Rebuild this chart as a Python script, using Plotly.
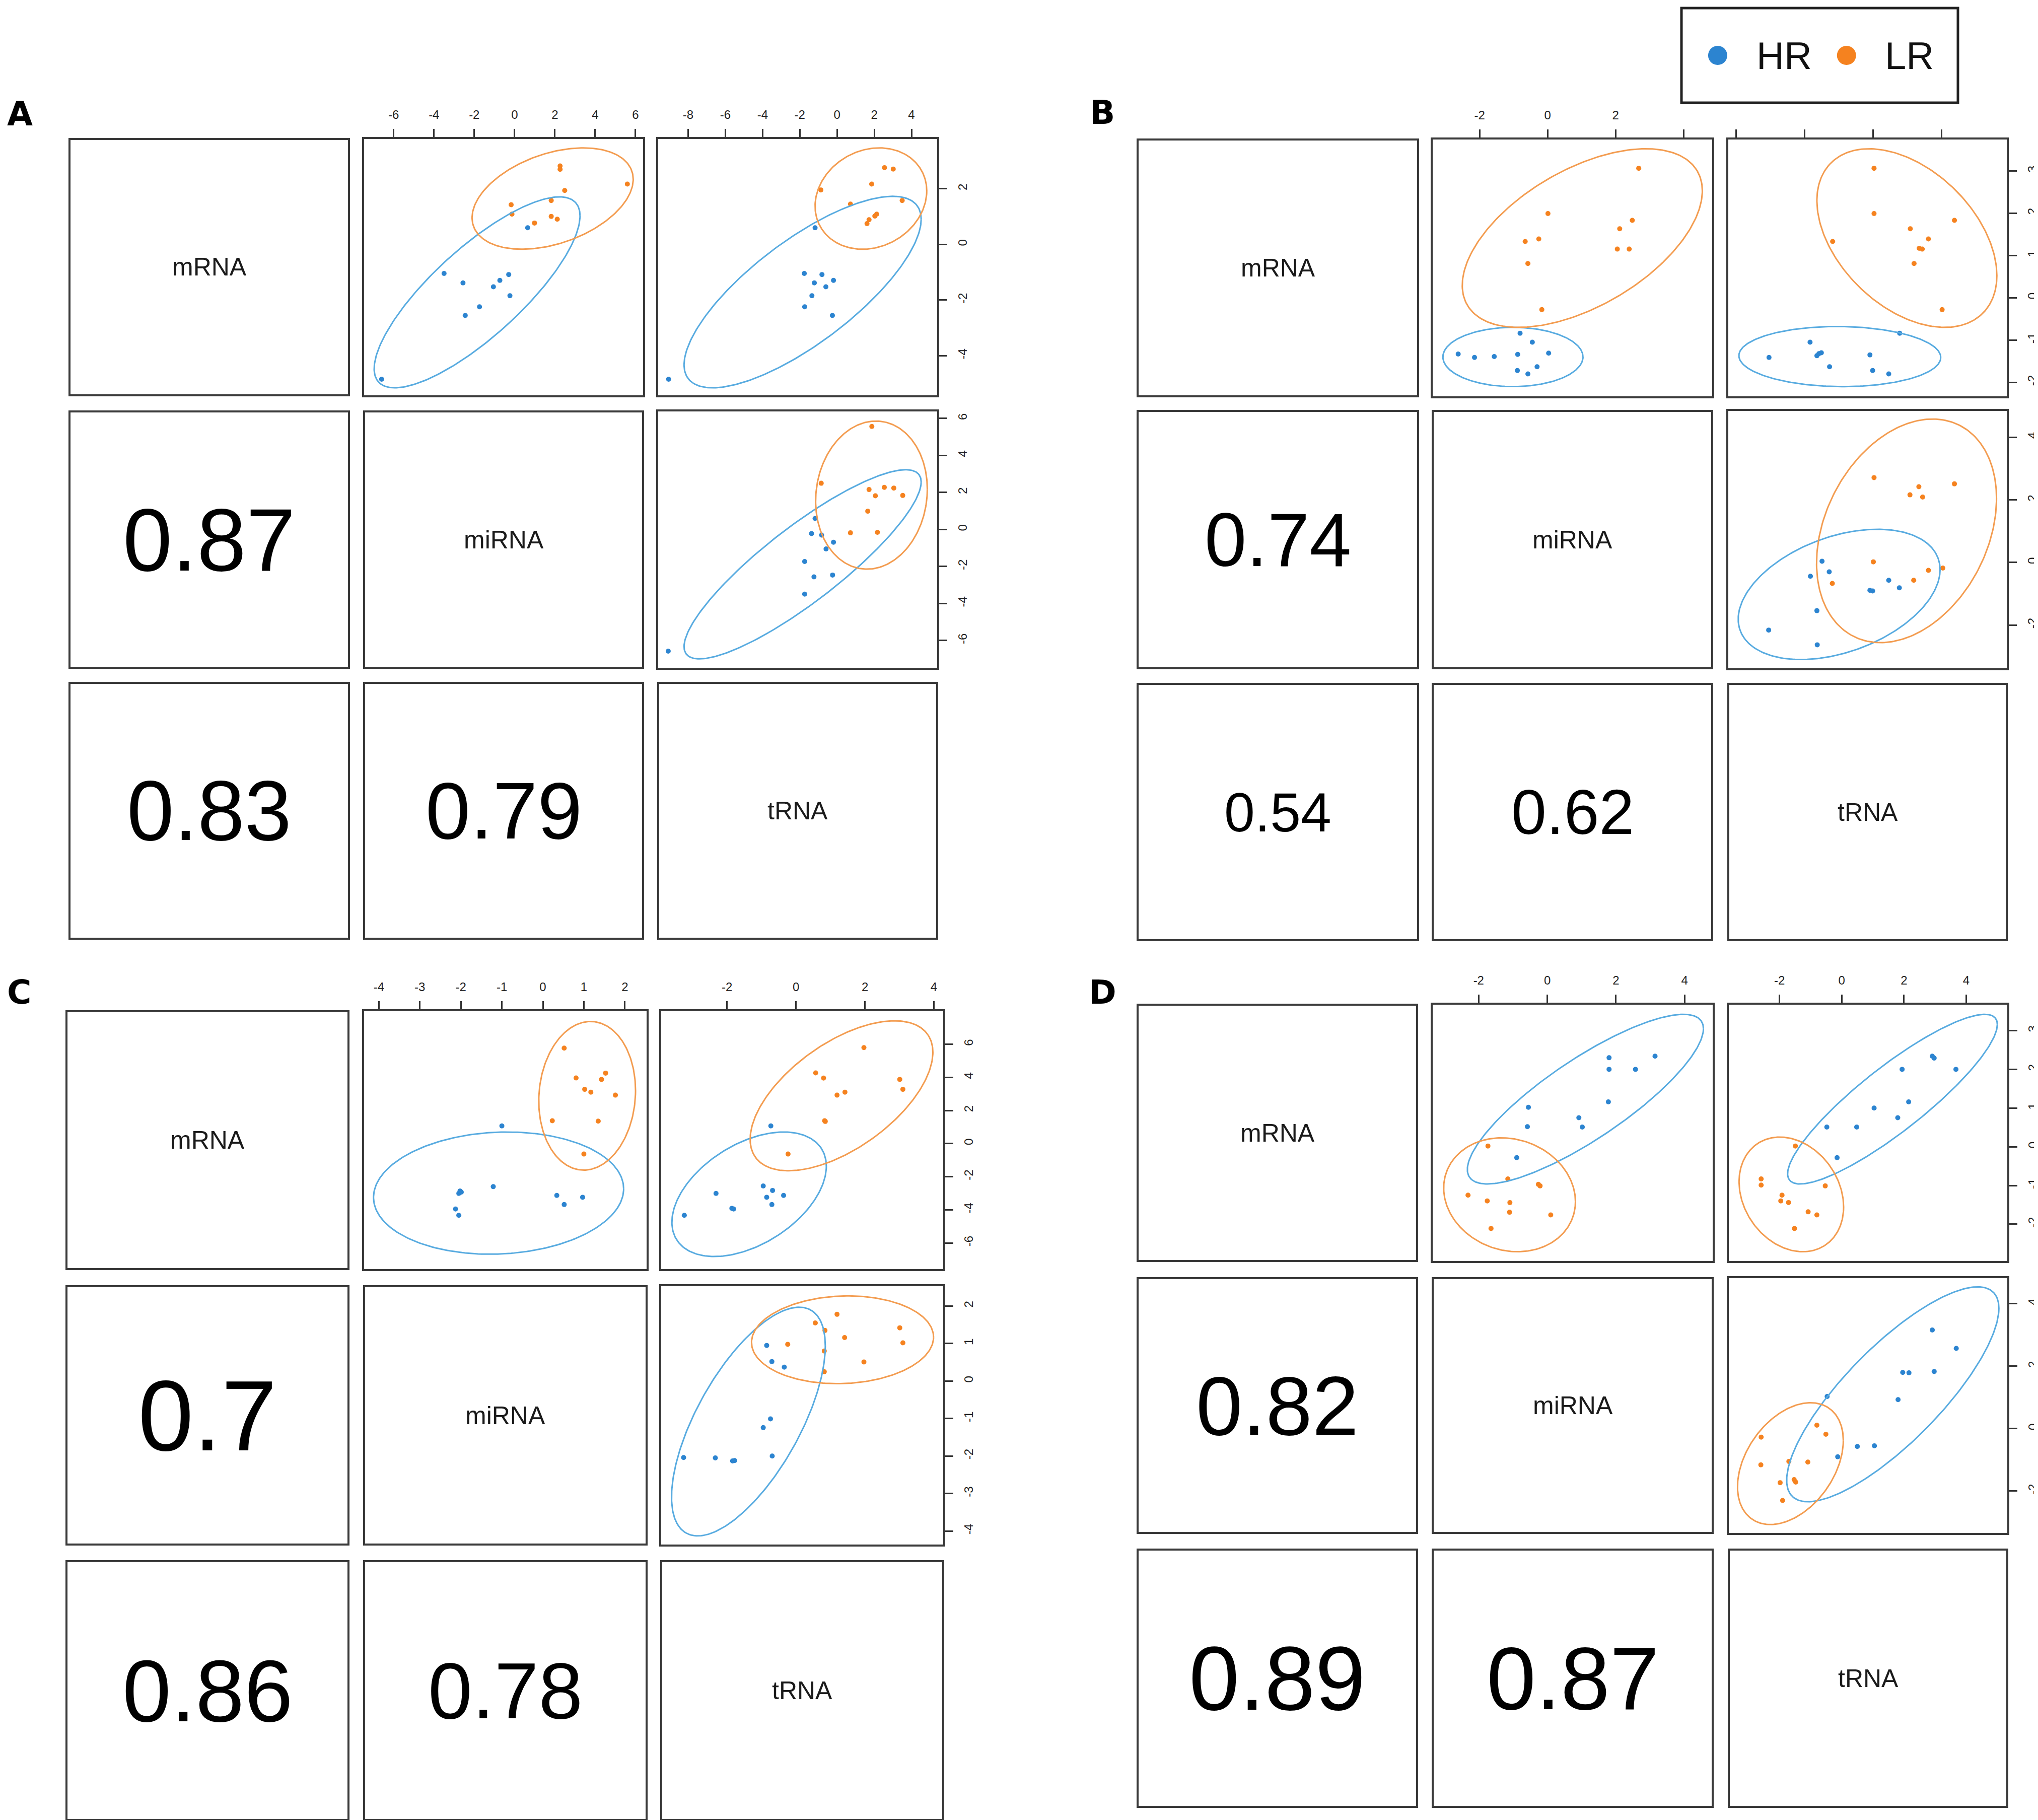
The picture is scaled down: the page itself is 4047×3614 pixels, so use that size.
import numpy as np
import plotly.graph_objects as go

W, H = 4047, 3614
VARS = ["mRNA", "miRNA", "tRNA"]
GROUPS = ["HR", "LR"]
PT_COLORS = {"HR": "#2C84D0", "LR": "#F5821F"}
ELL_COLORS = {"HR": "#58ABE0", "LR": "#F39C50"}
FONT = "Liberation Sans, Arial, sans-serif"

# ------------------------------------------------------------------ DATA
# cell "12": x = miRNA, y = mRNA ; "13": x = tRNA, y = mRNA ; "23": x = tRNA, y = miRNA
# ellipse = [centre x, centre y, half-width x, half-height y, correlation]

# ---------------- Panel A
A_cor = [0.87, 0.83, 0.79]
A_lims = [[-5.42, 3.79], [-7.47, 6.38], [-9.61, 5.38]]
A_ticks = [[-4, -2, 0, 2], [-6, -4, -2, 0, 2, 4, 6], [-8, -6, -4, -2, 0, 2, 4]]

A12_HR_x = [0.65, -3.50, -0.29, -2.56, -0.73, -1.05, -0.23, -1.74, -2.45, -6.60]
A12_HR_y = [0.60, -1.04, -1.08, -1.38, -1.29, -1.52, -1.84, -2.24, -2.55, -4.84]
A12_LR_x = [2.26, 2.26, 5.60, 2.49, 1.82, -0.17, -0.13, 1.82, 2.12, 0.99]
A12_LR_y = [2.82, 2.70, 2.17, 1.94, 1.58, 1.43, 1.09, 1.01, 0.91, 0.77]
A12_HR_ell = [-1.86, -1.72, 5.11, 3.43, 0.80]
A12_LR_ell = [1.89, 1.65, 4.00, 1.82, 0.38]

A13_HR_x = [-1.18, -1.76, -0.81, -1.22, -0.19, -0.60, -1.35, -1.74, -0.25, -9.05]
A13_HR_y = [0.60, -1.04, -1.08, -1.38, -1.29, -1.52, -1.84, -2.24, -2.55, -4.84]
A13_LR_x = [2.55, 3.02, 1.86, -0.87, 3.50, 0.72, 2.13, 2.03, 1.72, 1.61]
A13_LR_y = [2.76, 2.71, 2.17, 1.96, 1.58, 1.45, 1.09, 1.02, 0.89, 0.75]
A13_HR_ell = [-1.85, -1.71, 6.37, 3.44, 0.76]
A13_LR_ell = [1.82, 1.65, 3.00, 1.82, 0.15]

A23_HR_x = [-1.18, -1.37, -0.83, -0.19, -0.59, -1.74, -1.24, -0.24, -1.74, -9.07]
A23_HR_y = [0.60, -0.22, -0.30, -0.69, -1.05, -1.73, -2.56, -2.46, -3.49, -6.57]
A23_LR_x = [1.87, -0.85, 1.72, 2.54, 3.05, 2.06, 3.53, 1.65, 0.72, 2.17]
A23_LR_y = [5.57, 2.50, 2.16, 2.28, 2.24, 1.82, 1.84, 0.99, -0.18, -0.15]
A23_HR_ell = [-1.85, -1.88, 6.37, 5.11, 0.87]
A23_LR_ell = [1.85, 1.86, 3.00, 4.00, 0.08]

# ---------------- Panel B
B_cor = [0.74, 0.54, 0.62]
B_lims = [[-2.33, 3.74], [-3.38, 4.84], [-4.23, 3.91]]
B_ticks = [[-2, -1, 0, 1, 2, 3], [-2, 0, 2, 4], [-4, -2, 0, 2]]
B_top_hidden = {"miRNA": [4], "tRNA": [-4, -2, 0, 2]}

B12_HR_x = [-0.81, -0.45, -2.63, -2.15, -1.57, -0.88, 0.03, -0.31, -0.89, -0.58]
B12_HR_y = [-0.84, -1.05, -1.33, -1.41, -1.39, -1.34, -1.31, -1.63, -1.72, -1.80]
B12_LR_x = [2.68, 0.01, 2.49, 2.12, -0.26, -0.66, 2.05, 2.40, -0.58, -0.17]
B12_LR_y = [3.06, 1.99, 1.83, 1.63, 1.39, 1.33, 1.15, 1.15, 0.81, -0.28]
B12_HR_ell = [-1.02, -1.40, 2.06, 0.70, 0.0]
B12_LR_ell = [1.02, 1.41, 3.53, 2.11, 0.53]

B13_HR_x = [0.78, -1.84, -3.04, -1.58, -1.51, -1.64, -0.09, -1.27, -0.01, 0.46]
B13_HR_y = [-0.84, -1.05, -1.41, -1.32, -1.30, -1.37, -1.35, -1.63, -1.72, -1.80]
B13_LR_x = [0.03, 0.03, 2.38, 1.09, 1.62, -1.18, 1.35, 1.44, 1.20, 2.02]
B13_LR_y = [3.06, 1.99, 1.83, 1.63, 1.39, 1.33, 1.17, 1.15, 0.81, -0.28]
B13_HR_ell = [-0.97, -1.39, 2.95, 0.71, -0.03]
B13_LR_ell = [0.99, 1.41, 2.63, 2.11, -0.42]

B23_HR_x = [-1.49, -1.28, -1.83, 0.46, 0.77, -0.09, -0.01, -1.64, -3.05, -1.63]
B23_HR_y = [0.04, -0.30, -0.44, -0.57, -0.81, -0.89, -0.91, -1.54, -2.16, -2.63]
B23_LR_x = [0.03, 1.34, 2.38, 1.08, 1.45, 0.01, 1.62, 2.04, 1.19, -1.19]
B23_LR_y = [2.71, 2.42, 2.51, 2.16, 2.09, 0.02, -0.25, -0.18, -0.57, -0.67]
B23_HR_ell = [-0.99, -1.02, 2.95, 2.08, 0.38]
B23_LR_ell = [0.98, 1.01, 2.63, 3.57, 0.29]

# ---------------- Panel C
C_cor = [0.7, 0.86, 0.78]
C_lims = [[-7.58, 8.0], [-4.36, 2.53], [-3.91, 4.27]]
C_ticks = [[-6, -4, -2, 0, 2, 4, 6], [-4, -3, -2, -1, 0, 1, 2], [-2, 0, 2, 4]]

C12_HR_x = [-1.00, -1.21, -2.02, -2.05, -1.99, 0.34, 0.97, 0.52, -2.13, -2.05]
C12_HR_y = [1.07, -2.60, -2.86, -3.01, -2.93, -3.13, -3.24, -3.68, -3.95, -4.33]
C12_LR_x = [0.52, 1.53, 0.81, 1.43, 1.02, 1.17, 1.77, 0.23, 1.35, 1.00]
C12_LR_y = [5.77, 4.26, 3.97, 3.88, 3.28, 3.11, 2.93, 1.38, 1.36, -0.63]
C12_HR_ell = [-1.08, -2.99, 3.05, 3.69, 0.07]
C12_LR_ell = [1.08, 2.89, 1.18, 4.49, 0.07]

C13_HR_x = [-0.73, -0.95, -0.68, -0.36, -2.32, -0.85, -0.70, -1.81, -1.86, -3.24]
C13_HR_y = [1.07, -2.56, -2.83, -3.13, -3.01, -3.24, -3.68, -3.95, -3.91, -4.33]
C13_LR_x = [1.97, 0.57, 0.80, 3.01, 3.10, 1.42, 1.19, 0.83, 0.85, -0.23]
C13_LR_y = [5.80, 4.27, 3.96, 3.88, 3.28, 3.11, 2.93, 1.38, 1.34, -0.63]
C13_HR_ell = [-1.36, -3.06, 2.24, 3.76, 0.45]
C13_LR_ell = [1.32, 2.89, 2.65, 4.53, 0.58]

C23_HR_x = [-0.85, -0.70, -0.34, -0.74, -0.95, -0.69, -3.26, -2.34, -1.84, -1.78]
C23_HR_y = [0.95, 0.52, 0.37, -1.01, -1.24, -2.00, -2.04, -2.05, -2.13, -2.12]
C23_LR_x = [1.19, 0.56, 3.01, 1.41, 3.10, -0.24, 1.97, 0.84, 0.82, 0.82]
C23_LR_y = [1.78, 1.55, 1.42, 1.16, 1.02, 0.98, 0.51, 1.35, 0.80, 0.25]
C23_HR_ell = [-1.38, -1.08, 2.23, 3.05, 0.66]
C23_LR_ell = [1.35, 1.10, 2.64, 1.17, 0.06]

# ---------------- Panel D
D_cor = [0.82, 0.89, 0.87]
D_lims = [[-2.95, 3.67], [-3.34, 4.82], [-3.63, 5.32]]
D_ticks = [[-2, -1, 0, 1, 2, 3], [-2, 0, 2, 4], [-2, 0, 2, 4]]

D12_HR_x = [3.14, 1.80, 1.80, 2.57, 1.78, -0.55, 0.92, -0.58, 1.02, -0.89]
D12_HR_y = [2.34, 2.30, 2.00, 2.00, 1.16, 1.02, 0.75, 0.52, 0.51, -0.28]
D12_LR_x = [-1.73, -1.15, -0.26, -0.21, -2.31, -1.75, -1.09, -1.10, 0.10, -1.64]
D12_LR_y = [0.02, -0.83, -0.97, -1.01, -1.25, -1.40, -1.44, -1.69, -1.76, -2.11]
D12_HR_ell = [1.11, 1.23, 3.44, 2.19, 0.83]
D12_LR_ell = [-1.10, -1.24, 1.92, 1.47, -0.12]

D13_HR_x = [2.91, 2.97, 1.94, 3.67, 2.15, 1.04, 1.80, -0.48, 0.48, -0.15]
D13_HR_y = [2.34, 2.29, 2.00, 2.00, 1.16, 1.00, 0.75, 0.51, 0.51, -0.28]
D13_LR_x = [-1.49, -2.59, -2.59, -0.53, -1.92, -1.96, -1.71, -1.08, -0.80, -1.52]
D13_LR_y = [0.02, -0.83, -0.99, -1.01, -1.25, -1.40, -1.44, -1.68, -1.76, -2.11]
D13_HR_ell = [1.63, 1.23, 3.37, 2.19, 0.88]
D13_LR_ell = [-1.62, -1.23, 1.68, 1.48, -0.22]

D23_HR_x = [2.91, 3.68, 1.96, 2.16, 2.97, 1.81, -0.47, 0.50, 1.05, -0.13]
D23_HR_y = [3.16, 2.57, 1.80, 1.79, 1.83, 0.93, 1.03, -0.57, -0.55, -0.90]
D23_LR_x = [-2.59, -0.80, -0.51, -2.60, -1.70, -1.09, -1.98, -1.53, -1.48, -1.90]
D23_LR_y = [-0.27, 0.11, -0.18, -1.16, -1.05, -1.07, -1.73, -1.63, -1.71, -2.30]
D23_HR_ell = [1.64, 1.10, 3.41, 3.44, 0.80]
D23_LR_ell = [-1.65, -1.12, 1.70, 1.95, 0.38]

# ------------------------------------------------------------------ LAYOUT (pixel boxes)
G = globals()
PANELS = {
    "A": dict(cols=[(130, 685), (715, 1269), (1299, 1853)],
              rows=[(268, 777), (809, 1318), (1348, 1856)], letter=(31, 218)),
    "B": dict(cols=[(2251, 2808), (2837, 3392), (3424, 3977)],
              rows=[(269, 779), (808, 1319), (1350, 1859)], letter=(2181, 216)),
    "C": dict(cols=[(124, 684), (715, 1276), (1305, 1865)],
              rows=[(2000, 2512), (2546, 3059), (3092, 3606)], letter=(30, 1962)),
    "D": dict(cols=[(2251, 2806), (2837, 3393), (3425, 3978)],
              rows=[(1987, 2496), (2530, 3036), (3069, 3580)], letter=(2181, 1962)),
}

BOX_COLOR = "#3a3a3a"
BOX_W = 4

fig = go.Figure()
layout = {}
annotations = []
shapes = []
counter = [0]

BASE_AX = dict(showline=True, mirror=True, linecolor=BOX_COLOR, linewidth=BOX_W,
               showgrid=False, zeroline=False, ticks="", showticklabels=False,
               fixedrange=True)


def new_axes(xb, yb, xrange, yrange):
    counter[0] += 1
    k = counter[0]
    s = "" if k == 1 else str(k)
    xa = dict(BASE_AX, domain=[xb[0] / W, xb[1] / W], anchor="y" + s, range=xrange)
    ya = dict(BASE_AX, domain=[1 - yb[1] / H, 1 - yb[0] / H], anchor="x" + s, range=yrange)
    layout["xaxis" + s] = xa
    layout["yaxis" + s] = ya
    return s, xa, ya


def tick_style(vals, hidden=()):
    return dict(ticks="outside", ticklen=16, tickwidth=3, tickcolor="#333333",
                showticklabels=True, tickvals=vals,
                ticktext=["" if v in hidden else str(v) for v in vals],
                tickfont=dict(size=24, color="#222222", family=FONT),
                ticklabelstandoff=10)


def ellipse(p, n=240):
    cx, cy, rx, ry, rho = p
    t = np.linspace(0, 2 * np.pi, n)
    d = np.arccos(rho)
    return cx + rx * np.cos(t), cy + ry * np.cos(t - d)


CHAR_EM = {".": 0.278}


def text_em(s):
    return sum(CHAR_EM.get(c, 0.556) for c in s)


def centered(x, y, text, size, color, family=FONT):
    return dict(x=x, y=y, xref="paper", yref="paper", text=text, showarrow=False,
                xanchor="center", yanchor="middle",
                font=dict(size=size, color=color, family=family))


for name, P in PANELS.items():
    cor = G[name + "_cor"]
    lims = G[name + "_lims"]
    ticks = G[name + "_ticks"]
    hidden = G.get(name + "_top_hidden", {})
    cor_idx = {(1, 0): 0, (2, 0): 1, (2, 1): 2}
    for i in range(3):
        for j in range(3):
            xb, yb = P["cols"][j], P["rows"][i]
            cxp = (xb[0] + xb[1]) / 2 / W
            cyp = 1 - (yb[0] + yb[1]) / 2 / H
            if i >= j:
                shapes.append(dict(type="rect", xref="paper", yref="paper",
                                   x0=xb[0] / W, x1=xb[1] / W,
                                   y0=1 - yb[1] / H, y1=1 - yb[0] / H,
                                   line=dict(color=BOX_COLOR, width=BOX_W),
                                   fillcolor="rgba(0,0,0,0)"))
                if i == j:
                    annotations.append(centered(cxp, cyp, VARS[i], 50, "#1a1a1a"))
                else:
                    r = cor[cor_idx[(i, j)]]
                    txt = f"{r:g}"
                    size = 394 * r / text_em(txt)
                    annotations.append(centered(cxp, cyp, txt, size, "#000000"))
                continue
            s, xa, ya = new_axes(xb, yb, lims[j], lims[i])
            if i == 0:
                xa.update(tick_style(ticks[j], hidden.get(VARS[j], ())), side="top")
            if j == 2:
                ya.update(tick_style(ticks[i]), side="right", tickangle=-90)
            key = f"{name}{i + 1}{j + 1}"
            for g in GROUPS:
                fig.add_trace(go.Scatter(x=G[f"{key}_{g}_x"], y=G[f"{key}_{g}_y"],
                                         mode="markers", xaxis="x" + s, yaxis="y" + s,
                                         marker=dict(size=10, color=PT_COLORS[g]),
                                         showlegend=False, hoverinfo="skip"))
            for g in GROUPS:
                ex, ey = ellipse(G[f"{key}_{g}_ell"])
                fig.add_trace(go.Scatter(x=ex, y=ey, mode="lines", xaxis="x" + s, yaxis="y" + s,
                                         line=dict(color=ELL_COLORS[g], width=3),
                                         showlegend=False, hoverinfo="skip"))
    lx, ly = P["letter"]
    annotations.append(centered(lx / W, 1 - ly / H, f"<b>{name}</b>", 66, "#000000",
                                family="DejaVu Sans, Liberation Sans, sans-serif"))

# ------------------------------------------------------------------ legend
LEG = (3331, 3880, 8, 196)
counter[0] += 1
ls = str(counter[0])
layout["xaxis" + ls] = dict(domain=[LEG[0] / W, LEG[1] / W], range=[0, 1], visible=False,
                            anchor="y" + ls, fixedrange=True)
layout["yaxis" + ls] = dict(domain=[1 - LEG[3] / H, 1 - LEG[2] / H], range=[0, 1], visible=False,
                            anchor="x" + ls, fixedrange=True)
leg_marker_x = [0.131, 0.597]
leg_text_x = [0.268, 0.733]
for k, g in enumerate(GROUPS):
    fig.add_trace(go.Scatter(x=[leg_marker_x[k]], y=[0.5], mode="markers",
                             xaxis="x" + ls, yaxis="y" + ls,
                             marker=dict(size=38, color=PT_COLORS[g]),
                             showlegend=False, hoverinfo="skip"))
    annotations.append(dict(x=leg_text_x[k], y=0.5, xref="x" + ls, yref="y" + ls,
                            text=g, showarrow=False, xanchor="left", yanchor="middle",
                            font=dict(size=76, color="#111111", family=FONT)))

shapes.append(dict(type="rect", xref="paper", yref="paper",
                   x0=LEG[0] / W, x1=LEG[1] / W, y0=1 - LEG[3] / H, y1=1 - LEG[2] / H,
                   line=dict(color="#222222", width=5), fillcolor="rgba(0,0,0,0)"))

fig.update_layout(**layout)
fig.update_layout(width=W, height=H, margin=dict(l=0, r=0, t=0, b=0),
                  paper_bgcolor="white", plot_bgcolor="white",
                  annotations=annotations, shapes=shapes, showlegend=False,
                  font=dict(family=FONT))
fig.write_html("out.html")
